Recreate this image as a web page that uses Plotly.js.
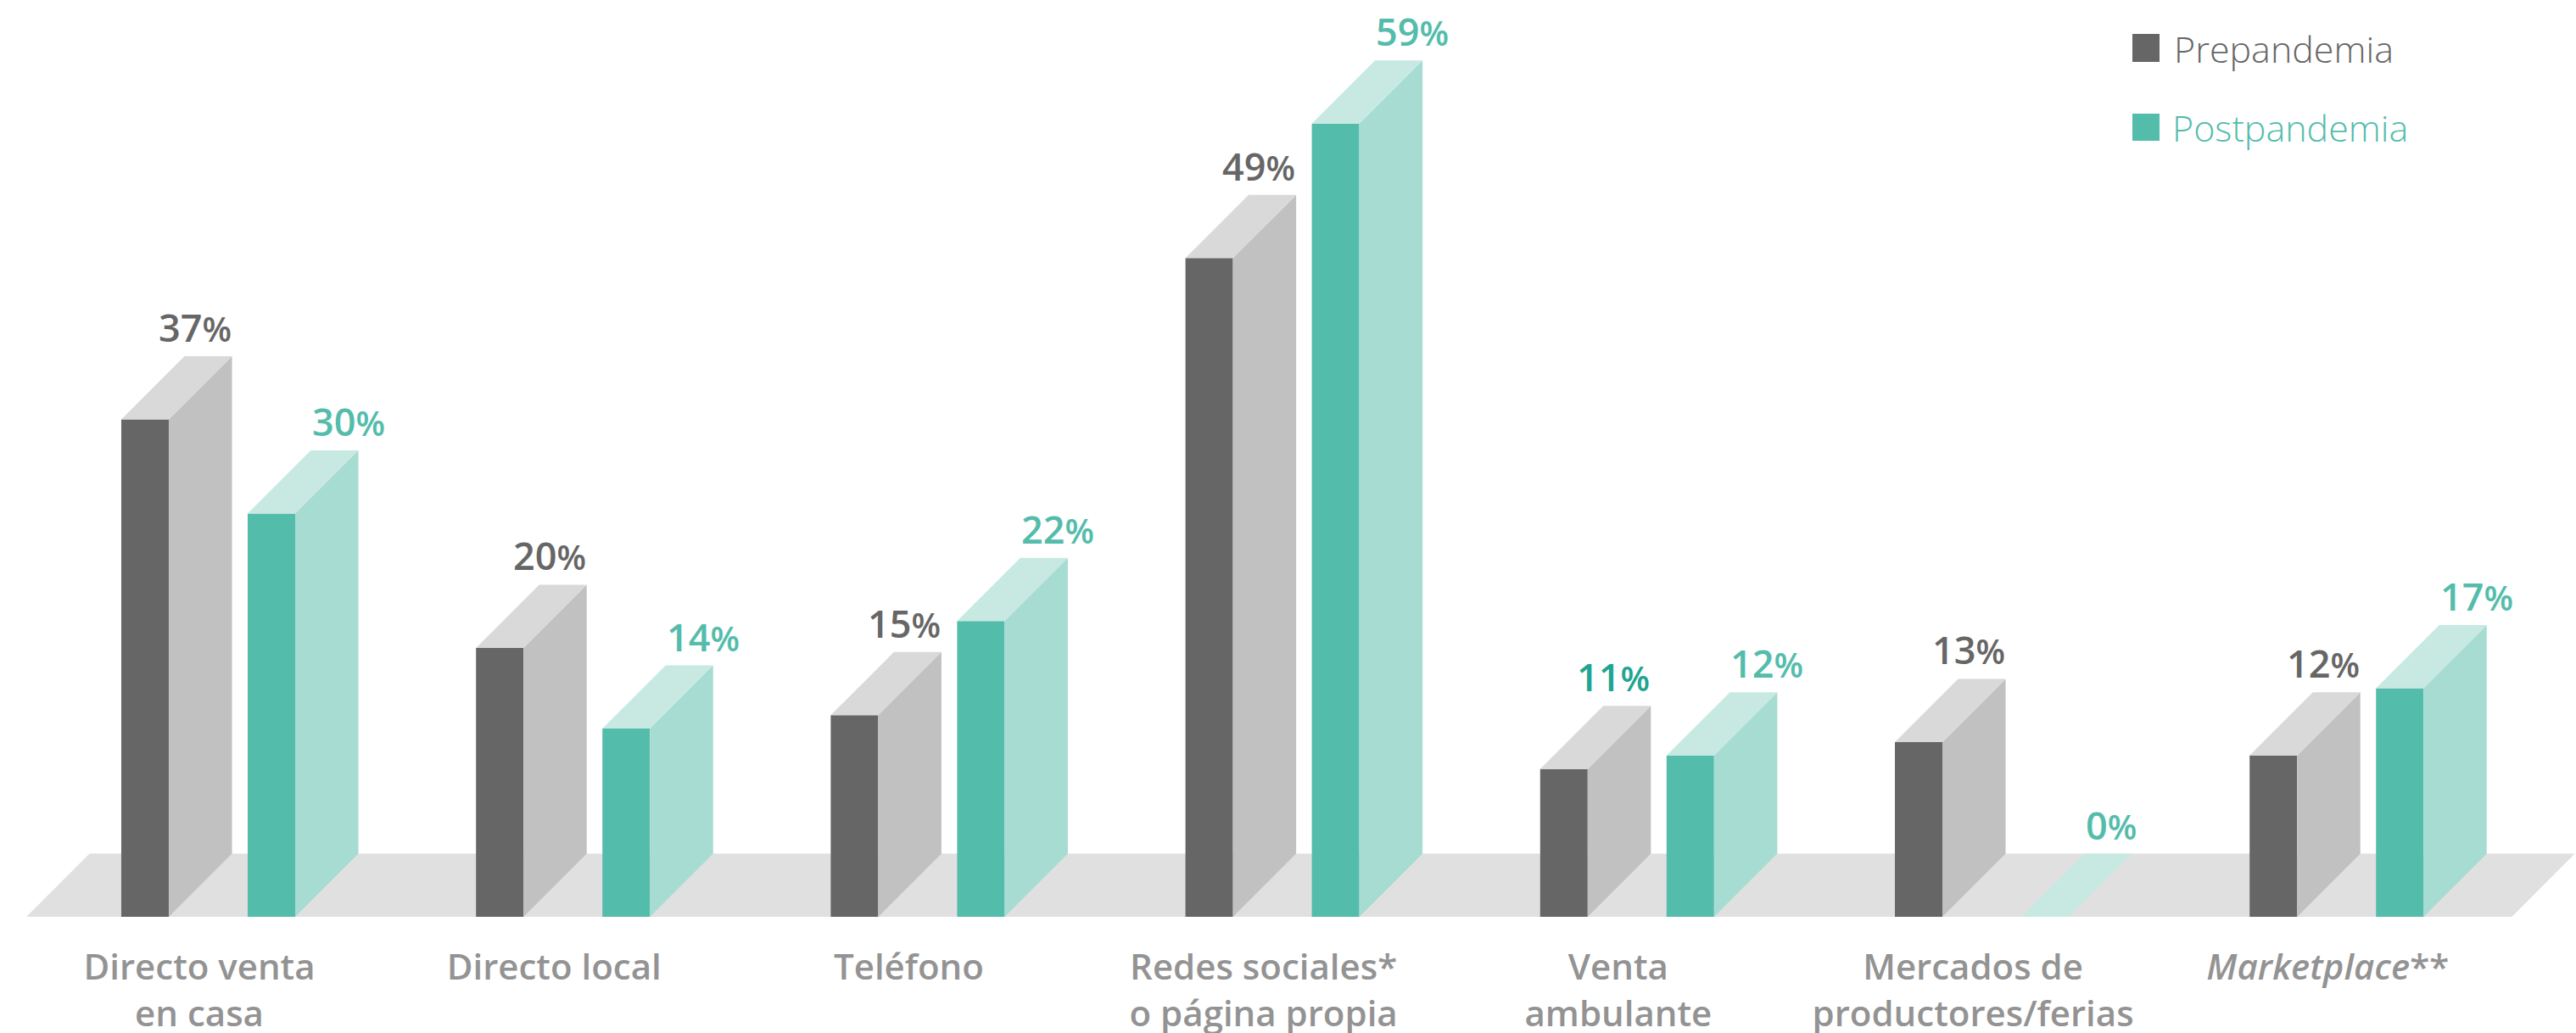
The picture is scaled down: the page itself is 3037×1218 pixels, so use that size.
<!DOCTYPE html>
<html>
<head>
<meta charset="utf-8">
<script src="https://cdn.plot.ly/plotly-3.0.1.min.js"></script>
<style>html,body{margin:0;padding:0;background:#fff;overflow:hidden}#chart{width:3037px;height:1218px}</style>
</head>
<body>
<div id="chart"></div>
<script>
// Sales channels before and after the pandemic, share of respondents (%)
const categories = [
  "Directo venta<br>en casa", "Directo local", "Teléfono",
  "Redes sociales*<br>o página propia", "Venta<br>ambulante",
  "Mercados de<br>productores/ferias", "<i>Marketplace</i>**"
];
const prepandemia = [37, 20, 15, 49, 11, 13, 12];
const postpandemia = [30, 14, 22, 59, 12, 0, 17];
const seriesNames = ["Prepandemia", "Postpandemia"];

// Palette: front, side and top faces of each series
const GREY = {front: "#666666", side: "#C1C1C1", top: "#D9D9D9"};
const TEAL = {front: "#54BCAB", side: "#A6DCD2", top: "#C7E9E2"};
const FLOOR = "#E0E0E0";
const LABEL = "#939393";
const FONT = "'Open Sans', sans-serif";

// Page dimensions and the height of the plotting area, for placing the legend
const W = 3037, H = 1218, PLOT_H = 1081;
const px = x => x / W, py = y => 1 - y / PLOT_H;

// Axis-unit geometry of the oblique bars
const BAR_W = 0.1339, OFF_PRE = -0.2451, OFF_POST = 0.1112;
const DEPTH_X = 0.1782, DEPTH_Y = 4.70;
const groups = categories.map((_, i) => i);

// Closed polygons for the receding faces, separated by nulls
function faces(values, offset) {
  const side = {x: [], y: []}, top = {x: [], y: []};
  values.forEach((v, i) => {
    const l = i + offset, r = l + BAR_W;
    side.x.push(r, r + DEPTH_X, r + DEPTH_X, r, r, null);
    side.y.push(0, DEPTH_Y, v + DEPTH_Y, v, 0, null);
    top.x.push(l, r, r + DEPTH_X, l + DEPTH_X, l, null);
    top.y.push(v, v, v + DEPTH_Y, v + DEPTH_Y, v, null);
  });
  return {side, top};
}

function bar(values, offset, name, col) {
  return {type: "bar", x: groups, y: values, name, width: BAR_W, offset,
    marker: {color: col.front, line: {width: 0}}, hoverinfo: "skip", showlegend: false};
}
function poly(p, color) {
  return {type: "scatter", mode: "none", x: p.x, y: p.y, fill: "toself", fillcolor: color,
    hoverinfo: "skip", showlegend: false};
}

const fPre = faces(prepandemia, OFF_PRE), fPost = faces(postpandemia, OFF_POST);
const traces = [
  bar(prepandemia, OFF_PRE, seriesNames[0], GREY),
  bar(postpandemia, OFF_POST, seriesNames[1], TEAL),
  poly(fPre.side, GREY.side), poly(fPre.top, GREY.top),
  poly(fPost.side, TEAL.side), poly(fPost.top, TEAL.top)
];

function valueLabel(v, x, xanchor, color) {
  return {x, y: v + DEPTH_Y, xref: "x", yref: "y", xanchor, yanchor: "bottom", showarrow: false,
    yshift: 3, borderpad: 0, align: xanchor,
    text: v + '<span style="font-size:40px">%</span>',
    font: {family: FONT, size: 45, color, weight: 600}};
}
const preColors = prepandemia.map((_, i) => i === 4 ? "#1FA591" : GREY.front);
const annotations = [
  ...prepandemia.map((v, i) => valueLabel(v, i + OFF_PRE + BAR_W + DEPTH_X, "right", preColors[i])),
  ...postpandemia.map((v, i) => valueLabel(v, i + OFF_POST + DEPTH_X, "left", TEAL.front)),
  {xref: "paper", yref: "paper", x: px(2561), y: py(58), xanchor: "left", yanchor: "middle",
   showarrow: false, text: seriesNames[0], font: {family: FONT, size: 43, color: GREY.front, weight: 300}},
  {xref: "paper", yref: "paper", x: px(2559), y: py(150), xanchor: "left", yanchor: "middle",
   showarrow: false, text: seriesNames[1], font: {family: FONT, size: 43, color: TEAL.front, weight: 300}}
];

const layout = {
  width: W, height: H,
  margin: {l: 0, r: 0, t: 0, b: H - PLOT_H},
  paper_bgcolor: "#fff", plot_bgcolor: "#fff",
  barmode: "overlay", showlegend: false,
  xaxis: {
    range: [-0.587, 6.675], showgrid: false, zeroline: false, showline: false,
    tickmode: "array", tickvals: groups.map(i => i - 0.025), ticktext: categories,
    ticks: "outside", ticklen: 23, tickcolor: "rgba(0,0,0,0)", tickangle: 0,
    tickfont: {family: FONT, size: 42, color: LABEL, weight: 600}, automargin: false
  },
  yaxis: {range: [0, 68.2], visible: false, showgrid: false, zeroline: false},
  annotations,
  shapes: [
    // Floor the bars stand on
    {type: "path", layer: "below", xref: "x", yref: "y", line: {width: 0}, fillcolor: FLOOR,
     path: `M -0.5127 0 L 6.494 0 L 6.672 ${DEPTH_Y} L -0.3345 ${DEPTH_Y} Z`},
    // Legend swatches
    {type: "rect", xref: "paper", yref: "paper", line: {width: 0}, fillcolor: GREY.front,
     x0: px(2514), x1: px(2546), y0: py(73), y1: py(40)},
    {type: "rect", xref: "paper", yref: "paper", line: {width: 0}, fillcolor: TEAL.front,
     x0: px(2514), x1: px(2546), y0: py(166), y1: py(134)}
  ]
};
Plotly.newPlot("chart", traces, layout, {staticPlot: true, displayModeBar: false});
</script>
</body>
</html>
